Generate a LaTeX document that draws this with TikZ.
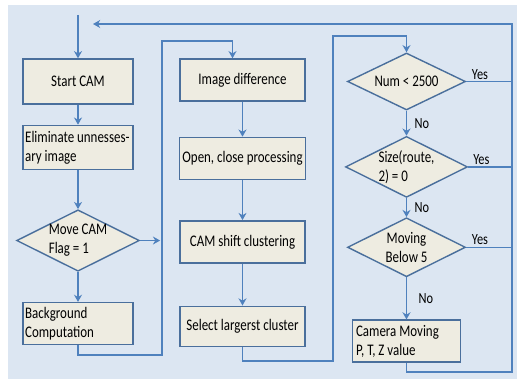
\documentclass[tikz,border=0pt]{standalone}
\usepackage{fontspec}
\setmainfont[FakeStretch=0.8]{Carlito}
\usetikzlibrary{arrows.meta,positioning,shapes.geometric,calc}
\definecolor{panelBlue}{HTML}{DCE6F2}
\definecolor{boxTan}{HTML}{EEECE1}
\definecolor{edgeBlue}{HTML}{4A6F9C}
\definecolor{flowBlue}{HTML}{4F81BD}

\begin{document}
\begin{tikzpicture}[
        every node/.style={font=\fontsize{11.5}{13.5}\selectfont},
        proc/.style={draw=edgeBlue, line width=1pt, fill=boxTan, minimum width=2.75cm, minimum height=1.05cm, align=center, inner sep=2pt},
        procl/.style={proc, text width=2.64cm, inner sep=0.055cm, align=flush left},
        wideproc/.style={proc, minimum width=3.125cm},
        test/.style={diamond, draw=edgeBlue, line width=1pt, fill=boxTan, shape aspect=2, inner sep=0pt, minimum width=2.95cm, minimum height=1.475cm, align=center},
        arrow/.style={-{Stealth[length=1.8mm,width=2mm]}, draw=flowBlue, line width=1.1pt},
        flow/.style={draw=flowBlue, line width=1.1pt},
        tag/.style={font=\fontsize{11}{13}\selectfont, inner sep=1pt}
    ]
        \useasboundingbox (0,0) rectangle (12.925,-9.475);
        \fill[panelBlue] (0.2,-0.125) rectangle (12.925,-9.475);

        % left column
        \node[proc, minimum height=1.125cm] (start) at (1.95,-2.0375) {Start CAM};
        \node[procl, minimum height=1.1cm, below=0.5cm of start] (elim) {Eliminate unnesses-\\ary image};
        \node[test, align=left, below=0.975cm of elim] (move) {Move CAM\\Flag = 1};
        \node[procl, below=0.75cm of move] (backg) {Background\\Computation};

        % middle column
        \node[wideproc] (imgdiff) at (6.0625,-2.0) {Image difference};
        \node[wideproc, below=0.875cm of imgdiff] (openclose) {Open, close processing};
        \node[wideproc, below=1.0cm of openclose] (camshift) {CAM shift clustering};
        \node[wideproc, minimum height=1.0cm, below=1.05cm of camshift] (select) {Select largerst cluster};

        % right column
        \node[test, minimum height=1.425cm] (num) at (10.1625,-2.0375) {Num < 2500};
        \node[test, minimum height=1.45cm, align=left, below=0.625cm of num] (size) {Size(route,\\2) = 0};
        \node[test, below=0.475cm of size] (moving) {Moving\\Below 5};
        \node[procl, minimum width=2.7cm, text width=2.52cm, inner sep=0.09cm, below=1.05cm of moving] (camera) {Camera Moving\\P, T, Z value};

        \coordinate (entry) at (1.95,-0.375);
        \coordinate (backtip) at (2.325,-0.6);
        \coordinate (rail) at (12.8,-0.6);
        \coordinate (movetip) at ($(move.east)+(0.5,0)$);

        \draw[arrow] (entry) -- (start);
        \draw[arrow] (start) -- (elim);
        \draw[arrow] (elim) -- (move);
        \draw[arrow] (move) -- (backg);
        \draw[arrow] (move.east) -- (movetip);
        \draw[arrow] (backg.south) |- (4.05,-8.875) -- (4.05,-1.025) -| ($(imgdiff.north)+(-0.25,0)$);

        \draw[arrow] (imgdiff) -- (openclose);
        \draw[arrow] (openclose) -- (camshift);
        \draw[arrow] (camshift) -- (select);
        \draw[arrow] (select.south) |- (8.325,-9.025) -- (8.325,-0.9) -| (num.north);

        \draw[arrow] (num) -- node[tag, right=0.15cm]{No} (size);
        \draw[arrow] (size) -- node[tag, right=0.15cm]{No} (moving);
        \draw[arrow] (moving) -- node[tag, right=0.25cm]{No} (camera);

        \draw[flow] (num.east) -- node[tag, above, pos=0.3]{Yes} (num.east -| rail);
        \draw[flow] (size.east) -- node[tag, above, pos=0.3]{Yes} (size.east -| rail);
        \draw[flow] (moving.east) -- node[tag, above, pos=0.3]{Yes} (moving.east -| rail);
        \draw[arrow] (camera.south) |- (12.8,-9.3) -- (rail) -- (backtip);
    \end{tikzpicture}
\end{document}
